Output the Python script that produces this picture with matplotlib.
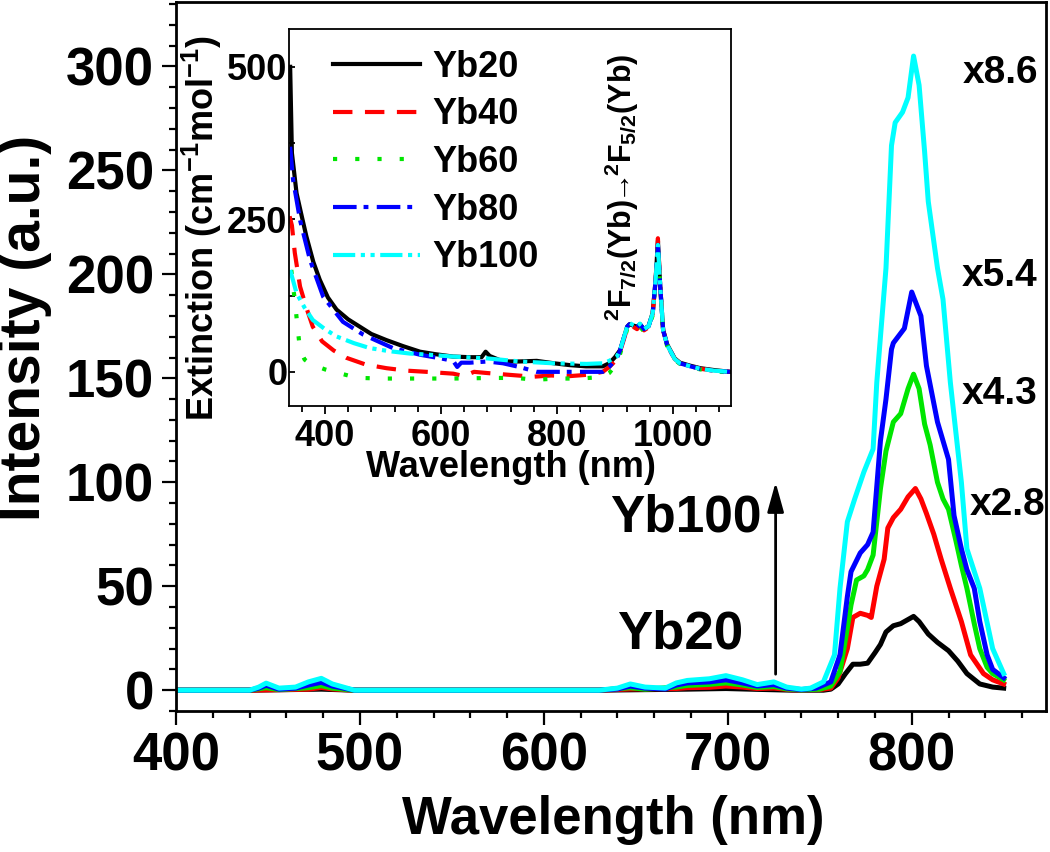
import matplotlib
matplotlib.use('Agg')
import matplotlib.pyplot as plt
from matplotlib import font_manager as fm
from matplotlib.ticker import MultipleLocator

# ---------------- main emission spectra ----------------
yb20_wl = [400, 440, 479, 497, 630, 678, 699, 716, 735, 752, 756, 760, 764, 768, 772, 776, 780, 783, 786,
           790, 794, 798, 801, 804, 809, 814, 820, 825, 830, 837, 844, 850]
yb20_int = [0, 0, 0.5, 0, 0, 0.5, 0.8, 0.4, 0, 0, 0.5, 3, 8, 12.5, 12.5, 13, 18, 22, 28,
            31, 32, 34, 35.5, 33, 27, 23, 19, 14, 8, 3, 1.5, 1]

yb40_wl = [400, 440, 472, 479, 485, 497, 630, 647, 672, 678, 690, 699, 708, 716, 725, 735, 750, 756, 760,
           765, 768, 772, 776, 778, 781, 785, 787, 790, 794, 798, 802, 805, 808, 812, 816, 821, 827, 832,
           839, 844, 850]
yb40_int = [0, 0, 0.5, 1.3, 0.6, 0, 0, 0.6, 0.8, 1.2, 1.4, 2, 1.5, 0.8, 1, 0.2, 0.3, 1, 6,
            20, 35, 37, 36, 35, 50, 63, 78, 83, 87, 93, 97, 92, 85, 75, 63, 49, 33, 17,
            8, 5, 3]

yb60_wl = [400, 440, 449, 456, 472, 479, 485, 497, 630, 647, 655, 672, 678, 690, 699, 708, 716, 725, 732,
           740, 750, 756, 761, 765, 767, 770, 774, 776, 779, 783, 786, 790, 794, 798, 801, 804, 807, 810,
           814, 817, 820, 824, 827, 830, 834, 837, 841, 844, 850]
yb60_int = [0, 0, 1.2, 0.3, 1.2, 2.2, 1, 0, 0, 1.2, 0.5, 1.5, 2.3, 2.8, 3.5, 2.5, 1.3, 1.8, 0.6,
            0.2, 0.5, 2, 9, 30, 41, 53, 55, 58, 65, 97, 115, 129, 133, 145, 152, 145, 128, 118,
            100, 92, 87, 72, 60, 49, 32, 20, 11, 8, 5]

yb80_wl = [400, 440, 445, 449, 456, 465, 472, 479, 485, 497, 630, 640, 647, 655, 666, 672, 678, 690, 699,
           708, 716, 725, 732, 740, 748, 752, 756, 761, 765, 767, 772, 776, 779, 783, 786, 789, 790, 796,
           800, 805, 808, 814, 820, 823, 827, 830, 834, 837, 841, 844, 850]
yb80_int = [0, 0, 1, 2.4, 0.5, 1, 2.5, 3.8, 2, 0, 0, 0.6, 2, 1, 0.6, 2.5, 3.5, 4, 5,
            3.5, 2, 2.7, 1, 0.3, 1, 2.5, 4, 17, 45, 57, 66, 70, 76, 120, 140, 164, 167, 174,
            191.5, 180, 156, 129, 111, 84, 68, 58, 49, 33, 17, 10, 6]

yb100_wl = [400, 440, 445, 449, 456, 465, 472, 479, 485, 497, 630, 640, 647, 655, 666, 672, 678, 690, 699,
            708, 716, 725, 732, 740, 745, 752, 758, 761, 765, 769, 774, 779, 781, 786, 789, 791, 795, 798,
            801, 804, 807, 809, 814, 817, 821, 827, 830, 837, 844, 850]
yb100_int = [0, 0, 1.5, 3.4, 1, 1.5, 4, 5.7, 3, 0, 0, 1, 3, 1.5, 1, 3.5, 4.7, 5.5, 7,
             5, 2.7, 4, 1.5, 0.5, 1, 4, 17, 49, 81, 92, 105, 116, 148, 203, 262, 273, 278, 285,
             305, 291, 259, 235, 203, 188, 148, 100, 68, 49, 20, 8]

# ---------------- inset extinction spectra ----------------
ext20_wl = [340, 343, 351, 360, 368, 380, 391, 405, 420, 440, 460, 480, 506, 535, 564, 590, 621, 650, 670,
            677, 684, 707, 735, 765, 795, 822, 850, 879, 890, 900, 909, 915, 921, 925, 931, 938, 943, 950,
            958, 965, 970, 974, 978, 983, 990, 995, 1003, 1012, 1030, 1047, 1070, 1098]
ext20 = [500, 359, 293, 255, 222, 180, 151, 122, 102, 86, 74, 62, 52, 42, 33, 29, 25, 24, 24,
         33, 26, 17, 17, 18, 14, 11, 9, 9, 14, 24, 36, 55, 74, 78, 76, 74, 78, 70,
         75, 97, 150, 215, 140, 69, 45, 36, 22, 15, 10, 6, 3, 0]

ext40_wl = [339, 343, 348, 357, 368, 379, 395, 415, 437, 470, 506, 540, 575, 621, 640, 657, 680, 719, 759,
            790, 822, 850, 879, 890, 903, 909, 915, 921, 925, 931, 938, 943, 950, 958, 965, 970, 974, 978,
            983, 990, 995, 1003, 1012, 1030, 1047, 1070, 1098]
ext40 = [255, 240, 195, 140, 105, 74, 50, 35, 23, 12, 6, 2, 0, -3, -7, 0, -2, -5, -8,
         -6, -7, -5, 0, 8, 20, 34, 52, 72, 76, 74, 70, 76, 68, 73, 95, 150, 219, 140,
         68, 44, 35, 21, 14, 9, 5, 2, 0]

ext60_wl = [342, 345, 348, 352, 357, 365, 375, 386, 400, 420, 440, 460, 500, 534, 580, 621, 690, 730, 762,
            800, 839, 870, 879, 890, 902, 909, 915, 921, 925, 931, 938, 943, 952, 958, 965, 970, 974, 978,
            983, 990, 995, 1003, 1012, 1030, 1047, 1070, 1098]
ext60 = [167, 140, 118, 80, 36, 20, 13, 9, 4, -1, -6, -10, -11, -11, -11, -11, -10, -10, -13,
         -11, -11, -9, -8, -2, 12, 30, 50, 70, 75, 72, 68, 74, 64, 70, 93, 145, 212, 136,
         66, 42, 33, 20, 13, 8, 4, 1, -1]

ext80_wl = [340, 345, 357, 374, 397, 431, 466, 517, 564, 600, 621, 628, 635, 650, 680, 707, 735, 765, 822,
            879, 890, 903, 909, 915, 921, 925, 931, 938, 943, 950, 958, 965, 970, 974, 978, 983, 990, 995,
            1003, 1012, 1030, 1047, 1070, 1098]
ext80 = [369, 315, 249, 184, 123, 82, 61, 39, 28, 22, 18, 8, 15, 15, 17, 14, 8, 0, 0,
         0, 8, 22, 36, 55, 74, 78, 76, 73, 78, 70, 75, 96, 150, 208, 140, 68, 44, 35,
         21, 14, 9, 5, 2, 0]

ext100_wl = [340, 351, 365, 379, 400, 420, 450, 477, 510, 546, 580, 621, 680, 736, 793, 851, 879, 890, 903,
             909, 915, 921, 925, 931, 938, 943, 950, 958, 965, 970, 974, 978, 983, 990, 995, 1003, 1012,
             1030, 1047, 1070, 1098]
ext100 = [167, 129, 105, 85, 70, 58, 47, 39, 34, 30, 28, 25, 22, 17, 14, 13, 14, 18, 25,
          36, 55, 74, 80, 77, 74, 79, 70, 75, 96, 150, 208, 140, 68, 44, 35, 21, 14,
          9, 5, 2, 0]

labels = ['Yb20', 'Yb40', 'Yb60', 'Yb80', 'Yb100']
colors = ['#000000', '#ff0000', '#00e600', '#0000ff', '#00ffff']
scale_labels = ['x8.6', 'x5.4', 'x4.3', 'x2.8']

FONT = 'Liberation Sans'
BIGSIZE = 38

plt.rcParams['mathtext.fontset'] = 'custom'
plt.rcParams['mathtext.rm'] = 'Liberation Sans:bold'
plt.rcParams['mathtext.it'] = 'Liberation Sans:bold'
plt.rcParams['mathtext.bf'] = 'Liberation Sans:bold'
plt.rcParams['mathtext.fallback'] = 'stixsans'
plt.rcParams['lines.scale_dashes'] = False

fig = plt.figure(figsize=(10.5, 8.52), dpi=100)
ax = fig.add_axes([176 / 1050, 1 - 711 / 852, 870 / 1050, 709 / 852])

main_series = [(yb20_wl, yb20_int), (yb40_wl, yb40_int), (yb60_wl, yb60_int),
               (yb80_wl, yb80_int), (yb100_wl, yb100_int)]
for (wl, val), c in zip(main_series, colors):
    ax.plot(wl, val, color=c, lw=3.6, solid_joinstyle='round')

ax.set_xlim(400, 873)
ax.set_ylim(-10, 331)
ax.xaxis.set_major_locator(MultipleLocator(100))
ax.xaxis.set_minor_locator(MultipleLocator(20))
ax.yaxis.set_major_locator(MultipleLocator(50))
ax.yaxis.set_minor_locator(MultipleLocator(10))
ax.tick_params(which='major', direction='out', length=10, width=1.6, pad=5)
ax.tick_params(which='minor', direction='out', length=5, width=1.6)
ax.tick_params(axis='y', which='major', pad=6)
for s in ax.spines.values():
    s.set_linewidth(2)
for lab in ax.get_xticklabels() + ax.get_yticklabels():
    lab.set_fontfamily(FONT)
    lab.set_fontsize(BIGSIZE)
    lab.set_fontweight('bold')

ax.set_xlabel('Wavelength (nm)', fontfamily=FONT, fontsize=BIGSIZE, fontweight='bold')
ax.set_ylabel('Intensity (a.u.)', fontfamily=FONT, fontsize=41, fontweight='bold')
ax.xaxis.set_label_coords(0.503, -0.118)
ax.xaxis.label.set_va('top')
ax.yaxis.set_label_coords(-0.1425, 0.54)

# scale factor labels
scale_pos = [(848, 297), (848, 199), (848, 142.6), (852, 89)]
for t, (xx, yy) in zip(scale_labels, scale_pos):
    ax.text(xx, yy, t, fontfamily=FONT, fontsize=28, fontweight='bold', ha='center', va='center')

ax.text(674, 27, 'Yb20', fontfamily=FONT, fontsize=BIGSIZE, fontweight='bold', ha='center', va='center')
ax.text(677, 82.6, 'Yb100', fontfamily=FONT, fontsize=37, fontweight='bold', ha='center', va='center')
ax.annotate('', xy=(726, 100), xytext=(726, 7.7),
            arrowprops=dict(arrowstyle='-|>,head_length=0.9,head_width=0.25', lw=2, color='k',
                            mutation_scale=20, shrinkA=0, shrinkB=0))

# ---------------- inset ----------------
ins = fig.add_axes([289 / 1050, 1 - 406 / 852, 442 / 1050, 377 / 852])
ins_series = [(ext20_wl, ext20), (ext40_wl, ext40), (ext60_wl, ext60), (ext80_wl, ext80), (ext100_wl, ext100)]
styles = ['-', (0, (14, 9)), (0, (3, 13)), (0, (17, 5, 3.5, 6)), (0, (16, 4, 3, 4, 3, 4))]
for (wl, val), c, ls, lab in zip(ins_series, colors, styles, labels):
    ins.plot(wl, val, color=c, lw=3, ls=ls, label=lab)
ins.set_xlim(338, 1100)
ins.set_ylim(-56, 562)
ins.xaxis.set_major_locator(MultipleLocator(200))
ins.xaxis.set_minor_locator(MultipleLocator(40))
ins.yaxis.set_major_locator(MultipleLocator(250))
ins.yaxis.set_minor_locator(MultipleLocator(125))
ins.tick_params(axis='x', which='major', direction='out', length=6, width=1.3, pad=3)
ins.tick_params(axis='x', which='minor', direction='out', length=4, width=1.3)
ins.tick_params(axis='y', which='both', direction='in', length=4, width=1.3, pad=1)
for s in ins.spines.values():
    s.set_linewidth(1.3)
for lab in ins.get_xticklabels() + ins.get_yticklabels():
    lab.set_fontfamily(FONT)
    lab.set_fontsize(26)
    lab.set_fontweight('bold')
ins.set_xlabel('Wavelength (nm)', fontfamily=FONT, fontsize=26, fontweight='bold')
ins.set_ylabel('Extinction (cm$^{-1}$mol$^{-1}$)', fontfamily=FONT, fontsize=26, fontweight='bold')
ins.xaxis.set_label_coords(0.502, -0.117)
ins.xaxis.label.set_va('top')
ins.yaxis.set_label_coords(-0.147, 0.472)

ins.text(912, 303, r'$^2$F$_{7/2}$(Yb)$\!\!\rightarrow\!\!$$^2$F$_{5/2}$(Yb)', rotation=90,
         fontfamily=FONT, fontsize=22, fontweight='bold', ha='center', va='center')

leg = ins.legend(loc='upper left', bbox_to_anchor=(0.0995, 0.945), frameon=False,
                 borderpad=0, borderaxespad=0, handlelength=2.41, handletextpad=0.33,
                 labelspacing=0.35, prop=fm.FontProperties(family=FONT, size=26, weight='bold'))

fig.savefig('out.png', dpi=100)
